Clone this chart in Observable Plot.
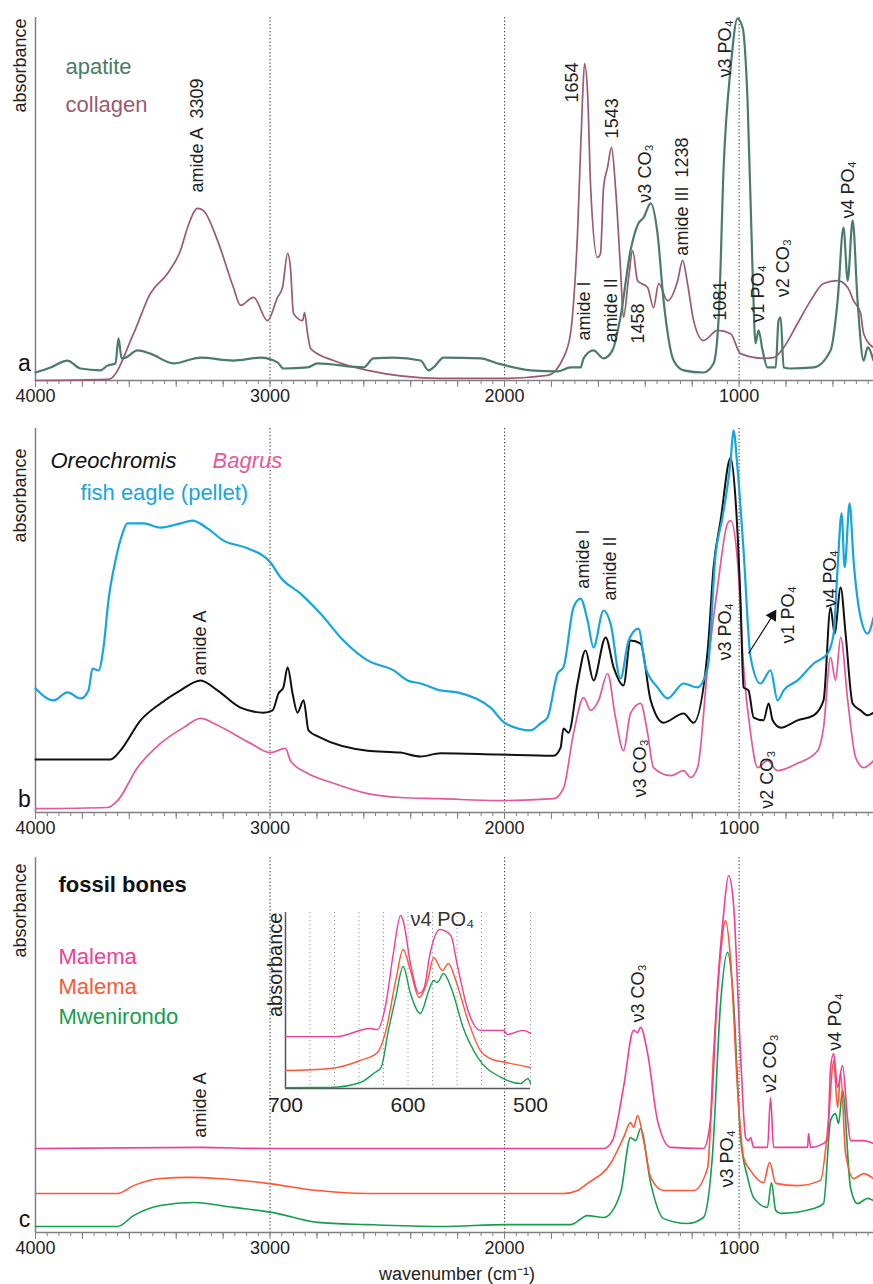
<!DOCTYPE html>
<html>
<head>
<meta charset="utf-8">
<script src="https://cdn.jsdelivr.net/npm/d3@7"></script>
<script src="https://cdn.jsdelivr.net/npm/@observablehq/plot@0.6"></script>
<style>
  body { margin: 0; background: #fff; }
  #wrap { position: relative; width: 873px; height: 1284px; overflow: hidden; background: #fff;
          font-family: "Liberation Sans", Arial, Helvetica, sans-serif; }
  #xtitle { position: absolute; left: 0; width: 914px; top: 1265px; text-align: center;
            font-size: 18px; line-height: 18px; color: #222; }
</style>
</head>
<body>
<div id="wrap"><div id="xtitle">wavenumber (cm⁻¹)</div></div>
<script>
// ---------------- DATA (wavenumber cm-1, absorbance in arbitrary units 0-100) ----------------
const majorTicks = [4000, 3000, 2000, 1000];
const refLines = [3000, 2000, 1000];

// Panel a
const collagen = [[4000,0],[3693,0.3],[3680,0.5],[3582,12.9],[3510,24.0],[3437,29.5],[3382,35.8],[3352,42.1],[3309,47.4],[3284,46.8],[3224,38.6],[3156,25.6],[3126,20.7],[3070,22.9],[3011,16.5],[2968,22.9],[2947,25.6],[2925,35.0],[2913,31.1],[2900,18.5],[2861,16.5],[2853,18.7],[2840,12.9],[2827,8.8],[2729,5.5],[2584,2.8],[2273,0.6],[2000,0.6],[1817,1.4],[1749,6.3],[1719,12.9],[1689,40.5],[1668,77.1],[1659,87.3],[1646,79.1],[1633,53.2],[1604,33.9],[1591,35.0],[1578,53.2],[1561,58.7],[1544,64.2],[1527,53.2],[1506,31.1],[1493,17.4],[1471,28.4],[1454,35.8],[1433,27.5],[1390,25.6],[1365,20.1],[1343,26.7],[1305,22.0],[1262,27.5],[1241,33.1],[1220,26.7],[1194,16.5],[1152,11.0],[1092,13.8],[1036,12.9],[994,7.4],[896,6.1],[853,6.3],[810,9.1],[751,15.7],[695,22.0],[640,26.7],[580,27.5],[537,25.6],[512,22.0],[482,18.5],[469,12.9],[427,9.1]];
const apatite = [[4000,2.2],[3936,3.6],[3864,5.5],[3808,3.3],[3723,2.8],[3693,4.1],[3659,4.7],[3646,11.6],[3633,6.1],[3616,6.3],[3565,8.3],[3510,7.4],[3412,4.7],[3296,6.3],[3156,5.5],[3041,6.3],[2968,5.0],[2943,3.3],[2840,3.6],[2798,4.7],[2601,3.6],[2559,6.1],[2473,6.3],[2358,5.5],[2324,2.8],[2303,3.6],[2260,6.3],[2102,6.1],[2030,4.7],[1889,2.8],[1774,2.5],[1719,3.6],[1676,3.6],[1663,6.1],[1621,8.3],[1578,6.1],[1540,8.3],[1506,17.4],[1463,35.8],[1429,43.3],[1407,44.9],[1377,48.8],[1348,40.5],[1322,22.0],[1279,5.5],[1237,2.8],[1152,2.2],[1109,4.7],[1087,17.4],[1066,58.7],[1036,86.2],[1007,99.7],[985,97.2],[964,77.1],[943,31.1],[930,10.2],[917,13.8],[900,8.3],[879,3.6],[844,3.6],[832,16.5],[823,17.4],[810,3.6],[781,3.3],[682,3.6],[610,8.3],[580,22.0],[555,42.1],[537,27.5],[516,44.1],[495,22.0],[469,5.5],[452,9.1],[427,5.5]];

// Panel b
const fishEagle = [[4000,32.3],[3923,29.2],[3864,31.3],[3808,29.7],[3774,31.8],[3757,37.5],[3731,37.0],[3710,43.0],[3689,55.2],[3659,65.6],[3629,72.7],[3608,75.3],[3539,75.3],[3467,74.2],[3382,75.3],[3331,76.0],[3267,74.0],[3198,70.8],[3096,68.8],[2998,65.1],[2955,61.2],[2870,57.0],[2785,51.8],[2687,44.8],[2584,39.6],[2473,37.0],[2414,34.4],[2358,33.6],[2273,31.8],[2201,31.3],[2060,27.3],[1996,23.2],[1889,21.4],[1847,23.2],[1817,24.7],[1774,36.2],[1749,37.8],[1706,53.4],[1676,55.7],[1646,50.0],[1621,43.0],[1578,52.6],[1548,49.2],[1506,34.9],[1471,44.8],[1429,47.9],[1399,37.8],[1348,32.6],[1305,29.7],[1237,33.6],[1177,32.6],[1134,37.8],[1100,67.4],[1071,76.8],[1036,91.7],[1024,99.5],[1007,89.8],[981,68.2],[951,40.4],[909,33.6],[866,37.0],[836,29.2],[810,31.8],[751,34.4],[682,38.8],[623,41.4],[597,46.6],[580,63.8],[563,77.9],[550,63.8],[529,80.5],[512,65.6],[482,50.8],[452,46.6],[427,50.8]];
const oreochromis = [[4000,13.8],[3680,13.8],[3638,16.1],[3552,24.0],[3467,28.4],[3382,31.8],[3296,34.4],[3224,31.8],[3126,27.3],[3028,26.0],[2989,26.6],[2964,31.0],[2943,32.6],[2925,37.8],[2904,31.0],[2883,26.0],[2857,29.2],[2836,21.4],[2785,19.5],[2584,16.1],[2444,15.6],[2358,14.6],[2273,15.4],[2030,15.1],[1791,14.8],[1761,16.9],[1749,21.9],[1727,20.8],[1689,33.6],[1655,42.2],[1621,34.4],[1569,45.6],[1535,37.8],[1493,33.1],[1463,44.8],[1420,44.0],[1377,29.2],[1322,23.4],[1237,25.8],[1194,23.4],[1134,42.2],[1109,63.8],[1079,76.0],[1036,92.4],[1015,81.3],[994,55.2],[981,32.6],[960,31.8],[938,24.7],[896,24.0],[874,28.4],[857,24.0],[823,22.1],[751,24.0],[682,25.3],[640,29.2],[610,53.4],[593,46.6],[567,58.6],[546,46.6],[516,28.4],[482,26.6],[452,25.3],[427,26.0]];
const bagrus = [[4000,1.0],[3693,1.3],[3650,3.1],[3565,11.7],[3467,18.0],[3369,22.1],[3296,24.5],[3224,22.7],[3083,18.0],[2998,15.6],[2934,16.7],[2913,13.5],[2840,10.2],[2729,7.6],[2584,4.9],[2444,3.9],[2273,3.6],[2030,3.1],[1791,3.6],[1749,6.3],[1706,20.6],[1663,29.9],[1633,26.6],[1599,29.2],[1561,36.2],[1527,24.7],[1493,16.1],[1463,25.8],[1420,28.4],[1390,20.6],[1365,11.7],[1292,9.6],[1237,10.9],[1207,9.1],[1177,11.7],[1134,37.8],[1092,58.6],[1049,75.3],[1036,76.0],[1007,65.6],[981,37.8],[951,20.6],[921,11.7],[879,13.5],[836,10.9],[751,12.8],[665,16.1],[640,22.1],[610,40.4],[589,34.4],[567,45.6],[537,29.2],[503,14.3],[469,11.7],[427,13.5]];

// Panel c
const malemaPink = [[4000,22.4],[3296,22.7],[3011,22.4],[2273,22.4],[1578,22.4],[1540,24.5],[1493,38.7],[1450,53.9],[1433,53.3],[1420,54.7],[1390,47.7],[1348,29.9],[1292,22.7],[1152,22.4],[1122,29.9],[1092,65.3],[1066,85.1],[1045,95.2],[1024,87.7],[994,47.7],[972,25.3],[960,24.5],[951,25.3],[938,22.7],[879,22.7],[866,36.0],[853,22.7],[708,22.7],[704,26.4],[695,22.7],[623,24.5],[610,44.0],[597,47.7],[580,38.7],[559,44.5],[537,29.9],[525,24.5],[469,24.5],[427,23.7]];
const malemaRed = [[4000,10.4],[3650,10.4],[3582,12.5],[3467,14.4],[3339,14.7],[3224,14.4],[3011,13.1],[2798,11.2],[2584,10.4],[1749,10.4],[1689,11.2],[1646,13.1],[1548,18.4],[1493,25.3],[1463,29.3],[1450,28.0],[1433,31.2],[1407,24.5],[1377,14.7],[1322,11.2],[1194,11.2],[1134,17.3],[1109,47.7],[1079,74.4],[1058,83.2],[1036,72.5],[1007,38.7],[981,20.0],[951,16.5],[896,13.3],[870,18.7],[844,13.1],[751,12.5],[653,13.9],[619,29.9],[597,45.9],[580,33.3],[567,42.4],[546,21.1],[512,14.4],[469,15.7],[427,14.4]];
const mwenirondo = [[4000,1.6],[3650,1.6],[3582,4.5],[3467,7.2],[3326,8.0],[3156,6.7],[2985,5.3],[2798,2.7],[2584,2.1],[2273,1.6],[1987,2.1],[1719,2.1],[1646,4.5],[1578,4.0],[1506,10.4],[1463,25.3],[1441,24.5],[1420,27.7],[1377,13.1],[1322,3.7],[1220,2.4],[1152,4.0],[1113,21.1],[1079,61.1],[1049,74.7],[1024,61.9],[994,25.3],[964,14.7],[938,9.3],[879,6.7],[862,13.3],[844,5.9],[823,5.1],[682,6.4],[640,7.7],[610,29.9],[589,31.7],[576,29.1],[559,37.9],[525,12.0],[495,7.7],[452,9.1],[427,8.5]];

// Inset (700-500 cm-1)
const insetTicks = [700, 600, 500];
const insetPink = [[700,29.5],[658,29.5],[631,34.1],[625,33.5],[618,48.3],[612,76.7],[606,98.3],[604,95.5],[598,71.0],[591,54.0],[587,56.8],[582,76.7],[574,90.3],[565,86.9],[560,71.0],[551,44.3],[541,33.0],[522,33.0],[519,30.7],[506,33.0],[500,31.3]];
const insetRed = [[700,10.2],[663,11.4],[639,15.9],[625,20.5],[618,33.0],[610,61.4],[604,79.0],[598,67.0],[591,51.7],[584,61.4],[579,74.4],[572,67.0],[567,71.0],[561,61.4],[551,38.6],[541,21.6],[533,17.0],[520,14.8],[500,11.9]];
const insetGreen = [[700,0.5],[663,0.6],[639,3.4],[627,9.1],[622,11.9],[616,33.0],[610,51.7],[604,69.3],[598,54.0],[590,42.6],[583,55.7],[579,61.4],[576,60.2],[571,65.3],[564,55.7],[555,34.7],[543,17.6],[524,6.3],[508,2.8],[502,5.7],[500,2.8]];

// Annotations (label text anchored at wavenumber / absorbance)
const labelsA = [
  {wn:3309, a:51.8, text:"amide A\u20023309"},
  {wn:1710, a:76.6, text:"1654"},
  {wn:1540, a:66.7, text:"1543"},
  {wn:1399, a:49.0, text:"ν3 CO₃"},
  {wn:1241, a:34.4, text:"amide III\u20021238"},
  {wn:1058, a:83.5, text:"ν3 PO₄"},
  {wn:1659, a:11.0, text:"amide I"},
  {wn:1544, a:10.5, text:"amide II"},
  {wn:1429, a:10.2, text:"1458"},
  {wn:1079, a:16.5, text:"1081"},
  {wn:917,  a:16.0, text:"ν1 PO₄"},
  {wn:810,  a:22.9, text:"ν2 CO₃"},
  {wn:533,  a:44.6, text:"ν4 PO₄"}
];
const labelsB = [
  {wn:3296, a:35.7, text:"amide A"},
  {wn:1663, a:58.3, text:"amide I"},
  {wn:1548, a:55.2, text:"amide II"},
  {wn:1420, a:3.9,  text:"ν3 CO₃"},
  {wn:1058, a:39.6, text:"ν3 PO₄"},
  {wn:789,  a:44.0, text:"ν1 PO₄"},
  {wn:879,  a:1.0,  text:"ν2 CO₃"},
  {wn:610,  a:53.4, text:"ν4 PO₄"}
];
const labelsC = [
  {wn:3296, a:25.3, text:"amide A"},
  {wn:1429, a:56.0, text:"ν3 CO₃"},
  {wn:1049, a:12.0, text:"ν3 PO₄"},
  {wn:866,  a:37.3, text:"ν2 CO₃"},
  {wn:589,  a:48.5, text:"ν4 PO₄"}
];
const arrowB = [{wn1:960, a1:41.4, wn2:857, a2:51.3}];

const legendA = [
  {key:"apatite",  wn:3872, a:84.3, text:"apatite"},
  {key:"collagen", wn:3872, a:73.9, text:"collagen"}
];
const legendB = [
  {key:"oreochromis", wn:3936, a:89.6, text:"Oreochromis", italic:true},
  {key:"bagrus",      wn:3245, a:89.6, text:"Bagrus", italic:true},
  {key:"fishEagle",   wn:3808, a:81.5, text:"fish eagle (pellet)"}
];
const legendC = [
  {key:"title",      wn:3902, a:90.9, text:"fossil bones", bold:true},
  {key:"malemaPink", wn:3902, a:71.7, text:"Malema"},
  {key:"malemaRed",  wn:3902, a:63.7, text:"Malema"},
  {key:"mwenirondo", wn:3902, a:55.7, text:"Mwenirondo"}
];

// ---------------- STYLE ----------------
const COLORS = {
  apatite: "#4b7b69", collagen: "#9a5a70",
  oreochromis: "#111111", bagrus: "#e4589b", fishEagle: "#17a6dc",
  malemaPink: "#f23c97", malemaRed: "#ff5636", mwenirondo: "#139f4c",
  title: "#111111"
};
const FONT = '"Liberation Sans", Arial, Helvetica, sans-serif';
const AXIS_GRAY = "#808080";
const X_DOMAIN = [4000, 427];

// ---------------- DRAW ----------------
const wrap = document.getElementById("wrap");
const rows = pairs => pairs.map(([wn, a]) => ({wn, a}));
function place(svg, left, top) {
  svg.style.position = "absolute";
  svg.style.left = left + "px";
  svg.style.top = top + "px";
  wrap.appendChild(svg);
}

function panel({letter, series, labels, legend, marginTop, inner, marginBottom, absDy, letterDy, extra = []}) {
  return Plot.plot({
    width: 873,
    height: marginTop + inner + marginBottom,
    marginLeft: 35, marginRight: 0, marginTop, marginBottom,
    x: {domain: X_DOMAIN},
    y: {domain: [0, 100], axis: null},
    style: {fontFamily: FONT, background: "transparent", overflow: "visible"},
    marks: [
      Plot.ruleX(refLines, {stroke: "#3a3a3a", strokeWidth: 1.1, strokeDasharray: "1.3,2.2"}),
      Plot.ruleX([4000], {stroke: AXIS_GRAY, strokeWidth: 1.5}),
      Plot.ruleY([0], {stroke: AXIS_GRAY, strokeWidth: 1.5}),
      Plot.axisX(d3.range(450, 4001, 50), {tickSize: 4, tickFormat: () => "", stroke: AXIS_GRAY, label: null}),
      Plot.axisX(d3.range(600, 4001, 200), {tickSize: 7, tickFormat: () => "", stroke: AXIS_GRAY, label: null}),
      Plot.axisX(majorTicks, {tickSize: 0, tickPadding: 9, fontSize: 18, fill: "#222", tickFormat: d => String(d), label: null}),
      ...series.map(s => Plot.line(rows(s.values), {x: "wn", y: "a", stroke: COLORS[s.key], strokeWidth: s.width, curve: "monotone-x"})),
      Plot.text(labels, {x: "wn", y: "a", text: "text", rotate: -90, textAnchor: "start", lineAnchor: "middle", fontSize: 18, fill: "#222"}),
      ...legend.map(d => Plot.text([d], {x: "wn", y: "a", text: "text", textAnchor: "start", lineAnchor: "bottom", fontSize: 22,
        fill: COLORS[d.key], fontStyle: d.italic ? "italic" : "normal", fontWeight: d.bold ? "bold" : "normal"})),
      Plot.text(["absorbance"], {frameAnchor: "top-left", text: d => d, rotate: -90, textAnchor: "end", lineAnchor: "middle", dx: -15, dy: absDy, fontSize: 18, fill: "#222"}),
      Plot.text([letter], {frameAnchor: "bottom-left", text: d => d, textAnchor: "middle", lineAnchor: "bottom", dx: -11, dy: letterDy, fontSize: 23, fill: "#111"}),
      ...extra
    ]
  });
}

const panelA = panel({
  letter: "a",
  series: [{key: "collagen", values: collagen, width: 1.7}, {key: "apatite", values: apatite, width: 2.2}],
  labels: labelsA, legend: legendA,
  marginTop: 17, inner: 363, marginBottom: 25, absDy: 1, letterDy: -10
});
place(panelA, 0, 0);

const panelB = panel({
  letter: "b",
  series: [{key: "bagrus", values: bagrus, width: 1.7}, {key: "oreochromis", values: oreochromis, width: 2}, {key: "fishEagle", values: fishEagle, width: 2.2}],
  labels: labelsB, legend: legendB,
  marginTop: 23, inner: 384, marginBottom: 25, absDy: 20, letterDy: -6,
  extra: [
    Plot.link(arrowB, {x1: "wn1", y1: "a1", x2: "wn2", y2: "a2", stroke: "#111", strokeWidth: 1.2}),
    Plot.dot(arrowB, {x: "wn2", y: "a2", symbol: "triangle", r: 4.5, fill: "#111", stroke: "none", rotate: 32})
  ]
});
place(panelB, 0, 405);

const panelC = panel({
  letter: "c",
  series: [{key: "mwenirondo", values: mwenirondo, width: 1.6}, {key: "malemaRed", values: malemaRed, width: 1.6}, {key: "malemaPink", values: malemaPink, width: 1.6}],
  labels: labelsC, legend: legendC,
  marginTop: 20, inner: 375, marginBottom: 27, absDy: 6, letterDy: -6
});
place(panelC, 0, 837);

const inset = Plot.plot({
  width: 300, height: 211,
  marginLeft: 30, marginRight: 25, marginTop: 5, marginBottom: 30,
  x: {domain: [700, 500]},
  y: {domain: [0, 100], axis: null},
  style: {fontFamily: FONT, background: "transparent", overflow: "visible"},
  marks: [
    Plot.ruleX(d3.range(500, 681, 20), {stroke: "#9a9a9a", strokeWidth: 1, strokeDasharray: "1.2,2.8"}),
    Plot.ruleX([700], {stroke: "#555", strokeWidth: 1.5}),
    Plot.ruleY([0], {stroke: "#555", strokeWidth: 1.5}),
    Plot.axisX(insetTicks, {tickSize: 0, tickPadding: 9, fontSize: 21, fill: "#222", tickFormat: d => String(d), label: null}),
    Plot.line(rows(insetGreen), {x: "wn", y: "a", stroke: COLORS.mwenirondo, strokeWidth: 1.4, curve: "monotone-x"}),
    Plot.line(rows(insetRed), {x: "wn", y: "a", stroke: COLORS.malemaRed, strokeWidth: 1.4, curve: "monotone-x"}),
    Plot.line(rows(insetPink), {x: "wn", y: "a", stroke: COLORS.malemaPink, strokeWidth: 1.4, curve: "monotone-x"}),
    Plot.text(["absorbance"], {frameAnchor: "top-left", text: d => d, rotate: -90, textAnchor: "end", lineAnchor: "middle", dx: -10, dy: 0, fontSize: 20, fill: "#222"}),
    Plot.text([{wn: 598, a: 100, text: "ν4 PO₄"}], {x: "wn", y: "a", text: "text", textAnchor: "start", lineAnchor: "middle", dy: 7, fontSize: 20, fill: "#333"})
  ]
});
place(inset, 255, 907);
</script>
</body>
</html>
